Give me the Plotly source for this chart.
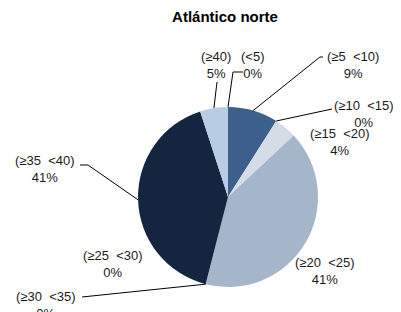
import math
import plotly.graph_objects as go

# ---- data ----
categories = ["(<5)", "(≥5  <10)", "(≥10  <15)", "(≥15  <20)", "(≥20  <25)",
              "(≥25  <30)", "(≥30  <35)", "(≥35  <40)", "(≥40)"]
values = [0, 9, 0, 4, 41, 0, 0, 41, 5]
pct_labels = ["0%", "9%", "0%", "4%", "41%", "0%", "0%", "41%", "5%"]
title_text = "Atlántico norte"

# ---- style / layout ----
colors = ["#1F3A5F", "#3C5F8C", "#7F95B3", "#D4DCE6", "#A5B5CA",
          "#5A7396", "#2B4467", "#13253F", "#B8CCE4"]
PAGE_W, PAGE_H = 401, 312
OFF = 8  # default page body margin
W, H = PAGE_W - OFF, PAGE_H - OFF
CX, CY, R = 228, 197, 90
FONT = "Liberation Sans, Arial, sans-serif"
TXT = "#1a1a1a"

# label block centres (page px) and leader-line start points (page px), per category
label_pos = [(252, 65), (353, 65), (364, 114), (340, 142), (325, 271),
             (113, 264), (46, 305), (45, 169), (216, 65)]
leader_start = [[(243, 72), (233, 72)], [(323, 57), (320, 57)], [(332, 109)], None, None,
                None, [(82, 297)], [(80, 165), (88, 165)], [(217, 82)]]

def px(x):
    return (x - OFF) / W

def py(y):
    return 1 - (y - OFF) / H

fig = go.Figure(go.Pie(
    labels=categories, values=values, sort=False, direction="clockwise",
    rotation=0, textinfo="none", hoverinfo="label+percent",
    marker=dict(colors=colors, line=dict(width=0)),
    domain=dict(x=[px(CX - R), px(CX + R)], y=[py(CY + R), py(CY - R)]),
    showlegend=False,
))

total = sum(values)
annotations = []
shapes = []
cum = 0
for i, (cat, v, p) in enumerate(zip(categories, values, pct_labels)):
    mid = (cum + v / 2) / total * 2 * math.pi
    cum += v
    ax = CX + R * math.sin(mid)
    ay = CY - R * math.cos(mid)
    lx, ly = label_pos[i]
    annotations.append(dict(
        x=px(lx), y=py(ly), xref="paper", yref="paper", xanchor="center", yanchor="middle",
        text=cat.replace("  ", "\u00a0\u00a0") + "<br>" + p, showarrow=False, align="center",
        font=dict(family=FONT, size=13, color=TXT)))
    if leader_start[i]:
        pts = leader_start[i] + [(ax, ay)]
        path = "M " + " L ".join(f"{px(x):.5f},{py(y):.5f}" for x, y in pts)
        shapes.append(dict(type="path", xref="paper", yref="paper", path=path,
                           line=dict(color="#000000", width=1)))

# clipped label at right edge
annotations.append(dict(x=px(392), y=py(165), xref="paper", yref="paper", xanchor="left",
                        yanchor="middle", text="(≥", showarrow=False,
                        font=dict(family=FONT, size=13, color=TXT)))

fig.update_layout(
    width=W, height=H, margin=dict(l=0, r=0, t=0, b=0),
    paper_bgcolor="white", plot_bgcolor="white",
    title=dict(text="<b>" + title_text + "</b>", x=px(225), xanchor="center",
               y=py(17), yanchor="middle", font=dict(family=FONT, size=15, color="#000")),
    annotations=annotations, shapes=shapes,
)
fig.write_html("out.html")
